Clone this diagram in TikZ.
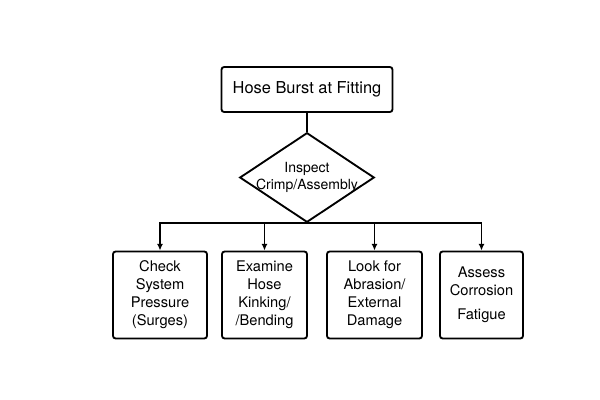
\documentclass[tikz,border=0pt]{standalone}
\usepackage{fontspec}
\setmainfont{TeX Gyre Heros}
\usetikzlibrary{shapes.geometric}
\usetikzlibrary{arrows.meta}

\begin{document}
\begin{tikzpicture}[x=0.75pt,y=-0.75pt]
    \def\px{0.75pt}
    \def\lw{1.4pt}
    \tikzset{box/.style={draw, line width=\lw, rounded corners=2pt, align=center, inner sep=0pt,
                         font=\fontsize{11}{13.5}\selectfont},
             branch/.style={line width=\lw, -{Latex[length=5pt,width=4.5pt]}}}
    \useasboundingbox (0,0) rectangle (600,400);
    \node[box, minimum width=171*\px, minimum height=45*\px, font=\fontsize{12.3}{14}\selectfont] (top) at (307,89.5) {Hose Burst at Fitting};
    \node[draw, diamond, line width=\lw, aspect=1.5, inner sep=-2pt, minimum width=133*\px, minimum height=89*\px,
          align=center, font=\fontsize{10.5}{13}\selectfont] (crimp) at (307,177.5) {Inspect\\Crimp/Assembly};
    \draw[line width=\lw] (top) -- (crimp);
    \foreach \n/\xc/\w/\txt in {1/160/94/{Check\\System\\Pressure\\(Surges)},
                                2/264.5/85/{Examine\\Hose\\Kinking/\\/Bending},
                                3/374.5/95/{Look for\\Abrasion/\\External\\Damage},
                                4/481.5/83/{Assess\\Corrosion\\[4.5pt]Fatigue}}{
        \node[box, minimum width=\w*\px, minimum height=87*\px] (b\n) at (\xc,295) {\txt};
        \draw[branch] (crimp.south) -| (b\n.north);
    }
\end{tikzpicture}
\end{document}
